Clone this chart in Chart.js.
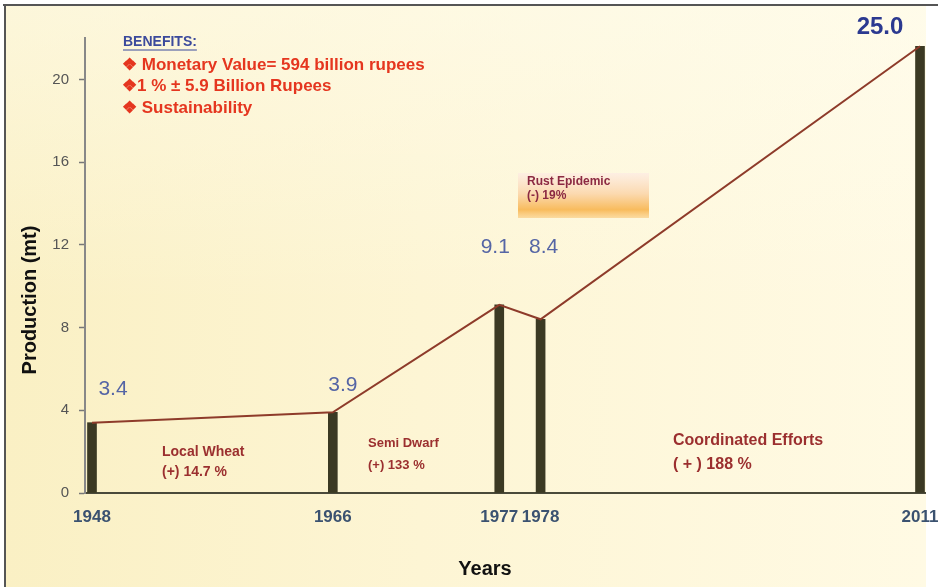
<!DOCTYPE html>
<html><head><meta charset="utf-8">
<script src="https://cdn.jsdelivr.net/npm/chart.js@4"></script>
<style>html,body{margin:0;padding:0;background:#fff;}canvas{display:block}</style>
</head><body>
<canvas id="c" width="940" height="587"></canvas>
<script>
// ---------- DATA ----------
const years = [1948, 1966, 1977, 1978, 2011];
const barHeights = [3.4, 3.9, 9.1, 8.4, 21.6];      // heights as drawn against the axis
const valueLabels = ['3.4', '3.9', '9.1', '8.4', '25.0'];
const yTicks = [0, 4, 8, 12, 16, 20];
const benefitsTitle = 'BENEFITS:';
const benefitLines = ['\u2756 Monetary Value= 594 billion rupees', '\u27561 % \u00b1 5.9 Billion Rupees', '\u2756 Sustainability'];
const phaseNames = ['Local Wheat', 'Semi Dwarf', 'Coordinated Efforts'];
const phaseChanges = ['(+) 14.7 %', '(+) 133 %', '( + ) 188 %'];
const eventName = 'Rust Epidemic';
const eventChange = '(-) 19%';
const yTitle = 'Production (mt)';
const xTitle = 'Years';

// ---------- LAYOUT / STYLE ----------
const FONT = '"Liberation Sans", Arial, sans-serif';
const labelOffsets = [[21, -33], [10, -27], [-4, -58], [3, -72], [-40, -19]];
const phasePos = [[162, 452, 14, 20], [368, 443, 13, 22], [673, 441, 16, 24]];

// x scale: spacing between years compressed by a power rule, with a minimum gap
class GapScale extends Chart.LinearScale {
  buildTicks() { return this.options.anchors.map(v => ({ value: v })); }
  _units(v) {
    const a = this.options.anchors, p = this.options.power, mg = this.options.minGap;
    if (v <= a[0]) return v - a[0];
    let u = 0;
    for (let i = 1; i < a.length; i++) {
      const seg = Math.max(Math.pow(a[i] - a[i - 1], p), mg);
      if (v >= a[i]) u += seg;
      else return u + seg * (v - a[i - 1]) / (a[i] - a[i - 1]);
    }
    return u + (v - a[a.length - 1]);
  }
  _total() {
    const a = this.options.anchors;
    return this._units(a[a.length - 1]) + this.options.padStart + this.options.padEnd;
  }
  getPixelForValue(v) {
    return this.getPixelForDecimal((this._units(v) + this.options.padStart) / this._total());
  }
  getValueForPixel(px) {
    let lo = this.min - 5, hi = this.max + 5;
    for (let k = 0; k < 40; k++) {
      const m = (lo + hi) / 2;
      if (this.getPixelForValue(m) < px) lo = m; else hi = m;
    }
    return (lo + hi) / 2;
  }
}
GapScale.id = 'gap';
GapScale.defaults = Chart.LinearScale.defaults;
Chart.register(GapScale);

const bgPlugin = {
  id: 'bg',
  beforeDraw(chart) {
    const ctx = chart.ctx;
    ctx.save();
    ctx.fillStyle = '#ffffff';
    ctx.fillRect(0, 0, 940, 587);
    const g = ctx.createLinearGradient(6, 0, 926, 0);
    g.addColorStop(0, '#faf0c4');
    g.addColorStop(0.45, '#fdf5d4');
    g.addColorStop(1, '#fffae4');
    ctx.fillStyle = g;
    ctx.fillRect(6, 6, 920, 581);
    const g2 = ctx.createLinearGradient(0, 6, 0, 300);
    g2.addColorStop(0, 'rgba(255,253,240,0.5)');
    g2.addColorStop(1, 'rgba(255,253,240,0)');
    ctx.fillStyle = g2;
    ctx.fillRect(6, 6, 920, 300);
    // frame
    ctx.strokeStyle = '#555';
    ctx.lineWidth = 2;
    ctx.beginPath();
    ctx.moveTo(3, 5); ctx.lineTo(938, 5);
    ctx.moveTo(5, 4); ctx.lineTo(5, 587);
    ctx.stroke();
    // event box
    const gb = ctx.createLinearGradient(0, 173, 0, 219);
    gb.addColorStop(0, 'rgba(253,235,228,0.7)');
    gb.addColorStop(0.45, 'rgba(251,214,170,0.9)');
    gb.addColorStop(0.8, 'rgba(248,184,86,0.95)');
    gb.addColorStop(1, 'rgba(250,205,130,0.6)');
    ctx.fillStyle = gb;
    ctx.fillRect(518, 173, 131, 45);
    ctx.restore();
  }
};

const textPlugin = {
  id: 'texts',
  afterDraw(chart) {
    const ctx = chart.ctx;
    const xs = chart.scales.x, ys = chart.scales.y;
    ctx.save();
    ctx.textBaseline = 'middle';
    // value labels
    ctx.textAlign = 'center';
    years.forEach((yr, i) => {
      const px = xs.getPixelForValue(yr) + labelOffsets[i][0];
      const py = ys.getPixelForValue(barHeights[i]) + labelOffsets[i][1];
      if (i === years.length - 1) { ctx.font = 'bold 24px ' + FONT; ctx.fillStyle = '#2b3990'; }
      else { ctx.font = '21px ' + FONT; ctx.fillStyle = '#5565a5'; }
      ctx.fillText(valueLabels[i], px, py);
    });
    // axis titles
    ctx.fillStyle = '#111';
    ctx.font = 'bold 20px ' + FONT;
    ctx.fillText(xTitle, 485, 569);
    ctx.save();
    ctx.translate(30, 300);
    ctx.rotate(-Math.PI / 2);
    ctx.fillText(yTitle, 0, 0);
    ctx.restore();
    // benefits
    ctx.textAlign = 'left';
    ctx.font = 'bold 14px ' + FONT;
    ctx.fillStyle = '#3b4a9c';
    ctx.fillText(benefitsTitle, 123, 42);
    const w = ctx.measureText(benefitsTitle).width;
    ctx.strokeStyle = '#3b4a9c'; ctx.lineWidth = 1.2;
    ctx.beginPath(); ctx.moveTo(123, 50); ctx.lineTo(123 + w, 50); ctx.stroke();
    ctx.font = 'bold 17px ' + FONT;
    ctx.fillStyle = '#e5361f';
    const by = [65, 86, 108];
    benefitLines.forEach((t, i) => ctx.fillText(t, 122, by[i]));
    // phases
    ctx.fillStyle = '#9b2f2f';
    phaseNames.forEach((t, i) => {
      const [x, y, fs, gap] = phasePos[i];
      ctx.font = 'bold ' + fs + 'px ' + FONT;
      ctx.fillText(t, x, y);
      ctx.fillText(phaseChanges[i], x, y + gap);
    });
    // event
    ctx.fillStyle = '#8b2942';
    ctx.font = 'bold 12px ' + FONT;
    ctx.fillText(eventName, 527, 182);
    ctx.fillText(eventChange, 527, 196);
    ctx.restore();
  }
};

new Chart(document.getElementById('c'), {
  data: {
    datasets: [
      {
        type: 'line',
        data: years.map((x, i) => ({ x, y: barHeights[i] })),
        borderColor: '#8e3b2a',
        borderWidth: 2,
        pointRadius: 0,
        tension: 0,
        order: 1
      },
      {
        type: 'bar',
        data: years.map((x, i) => ({ x, y: barHeights[i] })),
        backgroundColor: '#3b3923',
        barThickness: 9,
        order: 2
      }
    ]
  },
  options: {
    responsive: false,
    animation: false,
    devicePixelRatio: 1,
    layout: { padding: { top: 38, right: 15, left: 0, bottom: 0 } },
    plugins: { legend: { display: false }, tooltip: { enabled: false }, title: { display: false } },
    scales: {
      x: {
        type: 'gap',
        anchors: years,
        power: 0.75,
        minGap: 1.5,
        padStart: 0.254,
        padEnd: 0.181,
        min: years[0],
        max: years[years.length - 1],
        offset: false,
        grid: { display: true, drawOnChartArea: false, drawTicks: false },
        border: { display: true, color: '#4a4a3a', width: 2 },
        ticks: {
          autoSkip: false, maxRotation: 0, padding: 14,
          callback: v => String(v),
          color: '#3b5270',
          font: { family: FONT, size: 17, weight: 'bold' }
        },
        afterFit: s => { s.height = 94; s.paddingLeft = 0; s.paddingRight = 0; }
      },
      y: {
        min: 0, max: 22,
        afterBuildTicks: s => { s.ticks = yTicks.map(v => ({ value: v })); },
        grid: { display: true, drawOnChartArea: false, tickLength: 6, color: '#777', tickWidth: 1.5 },
        border: { display: true, color: '#888', width: 2 },
        ticks: {
          padding: 10,
          color: '#555',
          font: { family: FONT, size: 15 }
        },
        afterFit: s => { s.width = 85; s.paddingTop = 0; s.paddingBottom = 0; }
      }
    }
  },
  plugins: [bgPlugin, textPlugin]
});
</script>
</body></html>
